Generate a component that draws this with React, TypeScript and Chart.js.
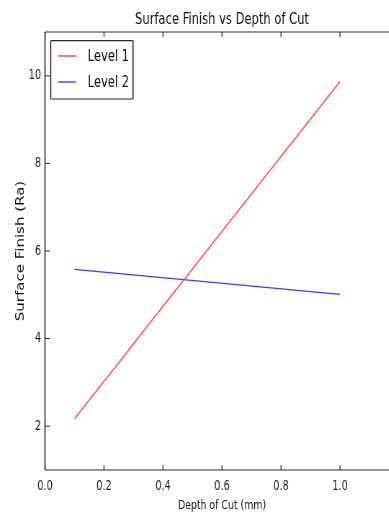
import React, { useEffect, useRef } from 'react';
import { Chart, registerables } from 'chart.js';
Chart.register(...registerables);

const depthOfCut = [0.1, 1.0];
const level1 = [2.17, 9.87];
const level2 = [5.58, 5.01];
const xTicks = [0.0, 0.2, 0.4, 0.6, 0.8, 1.0];
const yTicks = [2, 4, 6, 8, 10];
const seriesLabels = ['Level 1', 'Level 2'];
const seriesColors = ['#ff3b3b', '#3b3bff'];
const titleText = 'Surface Finish vs Depth of Cut';
const xTitle = 'Depth of Cut (mm)';
const yTitle = 'Surface Finish (Ra)';

const SX = 0.72;
const W = 617;
const H = 514;
const FONT = '"DejaVu Sans", sans-serif';

const framePlugin = {
  id: 'frame',
  afterDraw(chart: any) {
    const { ctx, chartArea: a, scales } = chart;
    ctx.save();
    ctx.strokeStyle = '#2a2a2a';
    ctx.lineWidth = 1.2;
    ctx.beginPath();
    ctx.moveTo(a.left, a.top);
    ctx.lineTo(a.right, a.top);
    ctx.moveTo(a.left, a.bottom);
    ctx.lineTo(a.right, a.bottom);
    ctx.stroke();
    ctx.lineWidth = 1.2 / SX;
    ctx.beginPath();
    ctx.moveTo(a.left, a.top);
    ctx.lineTo(a.left, a.bottom);
    ctx.moveTo(a.right, a.top);
    ctx.lineTo(a.right, a.bottom);
    ctx.stroke();
    ctx.lineWidth = 1 / SX;
    ctx.beginPath();
    xTicks.forEach((v) => {
      const px = scales.x.getPixelForValue(v);
      ctx.moveTo(px, a.bottom);
      ctx.lineTo(px, a.bottom - 5);
      ctx.moveTo(px, a.top);
      ctx.lineTo(px, a.top + 5);
    });
    ctx.stroke();
    ctx.lineWidth = 1;
    ctx.beginPath();
    yTicks.forEach((v) => {
      const py = scales.y.getPixelForValue(v);
      ctx.moveTo(a.left, py);
      ctx.lineTo(a.left + 5 / SX, py);
      ctx.moveTo(a.right, py);
      ctx.lineTo(a.right - 5 / SX, py);
    });
    ctx.stroke();
    ctx.fillStyle = '#111';
    ctx.font = `16px ${FONT}`;
    ctx.textAlign = 'center';
    ctx.textBaseline = 'middle';
    ctx.fillText(titleText, (a.left + a.right) / 2, 20);
    const bx0 = 70.4, bx1 = 184.7, by0 = 40.7, by1 = 99;
    ctx.fillStyle = '#fff';
    ctx.fillRect(bx0, by0, bx1 - bx0, by1 - by0);
    ctx.strokeStyle = '#2a2a2a';
    ctx.lineWidth = 1.2;
    ctx.beginPath();
    ctx.moveTo(bx0, by0); ctx.lineTo(bx1, by0);
    ctx.moveTo(bx0, by1); ctx.lineTo(bx1, by1);
    ctx.stroke();
    ctx.lineWidth = 1.2 / SX;
    ctx.beginPath();
    ctx.moveTo(bx0, by0); ctx.lineTo(bx0, by1);
    ctx.moveTo(bx1, by0); ctx.lineTo(bx1, by1);
    ctx.stroke();
    const rows = [56, 82];
    ctx.font = `16px ${FONT}`;
    ctx.textAlign = 'left';
    ctx.textBaseline = 'middle';
    seriesLabels.forEach((lab, i) => {
      ctx.strokeStyle = seriesColors[i];
      ctx.lineWidth = 1.4;
      ctx.beginPath();
      ctx.moveTo(80.6, rows[i]);
      ctx.lineTo(105.6, rows[i]);
      ctx.stroke();
      ctx.fillStyle = '#111';
      ctx.fillText(lab, 121.8, rows[i] + 1);
    });
    ctx.restore();
  },
};

export default function App() {
  const ref = useRef<HTMLCanvasElement>(null);
  useEffect(() => {
    if (!ref.current) return;
    const chart = new Chart(ref.current, {
      type: 'line',
      data: {
        datasets: [
          {
            label: seriesLabels[0],
            data: depthOfCut.map((x, i) => ({ x, y: level1[i] })),
            borderColor: seriesColors[0],
            borderWidth: 1.4,
            pointRadius: 0,
            fill: false,
            tension: 0,
          },
          {
            label: seriesLabels[1],
            data: depthOfCut.map((x, i) => ({ x, y: level2[i] })),
            borderColor: seriesColors[1],
            borderWidth: 1.4,
            pointRadius: 0,
            fill: false,
            tension: 0,
          },
        ],
      },
      options: {
        animation: false,
        responsive: false,
        devicePixelRatio: 1,
        layout: { padding: { top: 32, right: W - 554.2, left: 0, bottom: 0 } },
        plugins: {
          legend: { display: false },
          title: { display: false },
          tooltip: { enabled: false },
        },
        scales: {
          x: {
            type: 'linear',
            min: 0,
            max: 1.2,
            afterFit: (s: any) => { s.height = 44; },
            afterBuildTicks: (s: any) => { s.ticks = xTicks.map((v) => ({ value: v })); },
            grid: { display: false, drawTicks: false },
            border: { display: false },
            ticks: {
              padding: 8.5,
              color: '#222',
              font: { family: FONT, size: 13.5 },
              maxRotation: 0,
              autoSkip: false,
              callback: (v: any) => Number(v).toFixed(1),
            },
            title: {
              display: true,
              text: xTitle,
              color: '#111',
              font: { family: FONT, size: 13 },
              padding: { top: 0, bottom: 1 },
            },
          },
          y: {
            type: 'linear',
            min: 1,
            max: 11,
            afterFit: (s: any) => { s.width = 62.5; },
            afterBuildTicks: (s: any) => { s.ticks = yTicks.map((v) => ({ value: v })); },
            grid: { display: false, drawTicks: false },
            border: { display: false },
            ticks: {
              padding: 5.5,
              color: '#222',
              font: { family: FONT, size: 13.5 },
              autoSkip: false,
              callback: (v: any) => String(v),
            },
            title: {
              display: true,
              text: yTitle,
              color: '#111',
              font: { family: FONT, size: 15 },
              padding: { top: 20, bottom: 0 },
            },
          },
        },
      },
      plugins: [framePlugin],
    });
    return () => chart.destroy();
  }, []);

  return (
    <div style={{ position: 'absolute', left: 0, top: 0, width: 389, height: 514, overflow: 'hidden', background: '#fff' }}>
      <div style={{ width: W, height: H, transform: `scaleX(${SX})`, transformOrigin: '0 0' }}>
        <canvas ref={ref} width={W} height={H} style={{ display: 'block' }} />
      </div>
    </div>
  );
}
